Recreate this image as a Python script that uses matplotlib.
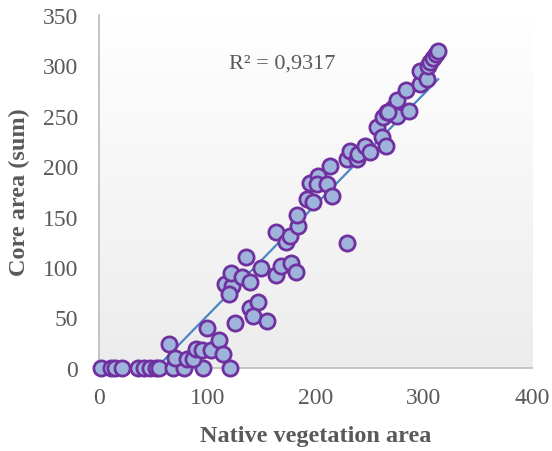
import numpy as np
import matplotlib.pyplot as plt

# Native vegetation area (x) vs core area sum (y)
native_area = [
    1.6, 11.7, 14.8, 21, 36, 42, 47, 53, 56, 68.6, 79, 96, 121,
    64.6, 70, 81, 87, 89.6, 94.8, 104, 111, 115, 100, 125.8,
    139.4, 147, 142.3, 155.2,
    116.3, 122.5, 120.3, 121.6, 131.8, 139.4, 136.3, 149.8,
    163.4, 168, 177, 181.9, 163.4, 172.7, 176.4, 184, 183, 228.7,
    192.3, 197.8, 194.8, 202.5, 201.6, 210.2, 214.9, 213.3,
    228.7, 231.8, 237.9, 239.4, 245.6, 250.2,
    256.4, 261, 265, 262.5, 265.6, 271.2, 274.9, 274.9, 283.5, 286.5, 267,
    296.4, 296.4, 302.6, 304, 305.6, 308.7, 311.2, 313.3,
]
core_area = [
    0, 0, 0, 0, 0, 0, 0, 0, 0, 0, 0, 0, 0,
    23.8, 10, 9, 9, 19, 18, 18, 28, 14, 39.5, 44.3,
    59.5, 65.7, 51.8, 46.6,
    83, 81.5, 73.3, 94, 89.9, 84.9, 109.7, 98.5,
    91.8, 101, 104, 95.4, 135, 125, 131, 141, 151.6, 124,
    167.5, 164.2, 183.4, 190.6, 182.4, 182.4, 170.8, 200.5,
    207, 215, 207, 212, 220, 213.7,
    238.5, 228.6, 220.3, 248.4, 253.4, 258, 265.4, 250, 275.3, 255, 254,
    281, 294.6, 286.8, 299.6, 303, 307, 311.2, 314,
]
# linear trendline as drawn in the chart (slope, intercept)
trend_slope = 1.1
trend_intercept = -58.5
r2_label = "R² = 0,9317"

x = np.array(native_area)
y = np.array(core_area)

plt.rcParams['font.family'] = ['Liberation Serif', 'DejaVu Serif']
grey = '#595959'

fig = plt.figure(figsize=(5.52, 4.52), dpi=100)
ax = fig.add_axes([0.179, 0.184, 0.785, 0.781])

# soft vertical gradient in the plot area (white at top, light grey at bottom)
grad = np.linspace(0, 1, 256).reshape(-1, 1)
bg = plt.cm.colors.LinearSegmentedColormap.from_list('bg', ['#ffffff', '#ececec'])
ax.imshow(grad, extent=[0, 400, 0, 350], aspect='auto', cmap=bg, origin='upper', zorder=0)

xs = np.array([x.min(), x.max()])
ax.plot(xs, trend_slope * xs + trend_intercept, color='#4a86c5', lw=1.6, zorder=2)

ax.scatter(x, y, s=120, facecolor='#9fb4da', edgecolor='#7030a0', linewidth=2, zorder=3, clip_on=False)

ax.text(0.30, 0.85, r2_label, transform=ax.transAxes, fontsize=16, color=grey)

ax.set_xlim(0, 400)
ax.set_ylim(0, 350)
ax.set_xticks([0, 100, 200, 300, 400])
ax.set_yticks(range(0, 351, 50))
ax.tick_params(length=0, labelsize=17, labelcolor=grey)
ax.tick_params(axis='y', pad=15)
ax.tick_params(axis='x', pad=14)
for s in ['top', 'right']:
    ax.spines[s].set_visible(False)
for s in ['left', 'bottom']:
    ax.spines[s].set_color('#bfbfbf')
    ax.spines[s].set_linewidth(1.3)

ax.set_xlabel('Native vegetation area', fontsize=17.5, fontweight='bold', color=grey, labelpad=12)
ax.set_ylabel('Core area (sum)', fontsize=17.5, fontweight='bold', color=grey, labelpad=9)

fig.savefig('out.png', dpi=100)
